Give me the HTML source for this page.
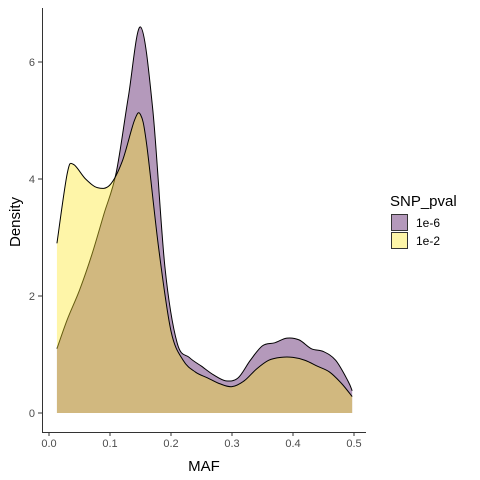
<!DOCTYPE html>
<html><head><meta charset="utf-8"><style>
body{margin:0;background:#fff;font-family:"Liberation Sans",sans-serif;}
svg{display:block}
</style></head><body>
<svg id="chart" width="480" height="480" xmlns="http://www.w3.org/2000/svg">
<rect width="480" height="480" fill="#fff"/>
<g id="marks"></g>
<g id="axes"></g>
<text x="204" y="471" font-size="15" text-anchor="middle" fill="#000">MAF</text>
<text transform="translate(20,222) rotate(-90)" font-size="15" text-anchor="middle" fill="#000">Density</text>
<g>
<text x="390" y="206" font-size="15" fill="#000">SNP_pval</text>
<rect x="391.5" y="214.5" width="16" height="16" fill="#b499bb" stroke="#333" stroke-width="1"/>
<text x="416" y="227" font-size="12" fill="#000">1e-6</text>
<rect x="391.5" y="232.5" width="16" height="16" fill="#fdf5a8" stroke="#333" stroke-width="1"/>
<text x="416" y="245" font-size="12" fill="#000">1e-2</text>
</g>
</svg>
<script>
const mafA=[0.013,0.03,0.05,0.07,0.09,0.11,0.13,0.15,0.17,0.19,0.21,0.23,0.25,0.27,0.29,0.31,0.33,0.35,0.37,0.39,0.41,0.43,0.45,0.47,0.49,0.497];
const densA=[1.1,1.6,2.1,2.7,3.4,4.1,5.4,6.6,5.2,2.5,1.2,0.95,0.8,0.65,0.55,0.6,0.9,1.15,1.2,1.28,1.25,1.1,1.05,0.9,0.55,0.38];
const mafB=[0.013,0.03,0.04,0.06,0.08,0.1,0.12,0.14,0.15,0.16,0.18,0.2,0.22,0.24,0.26,0.28,0.3,0.32,0.34,0.36,0.38,0.4,0.42,0.44,0.46,0.48,0.497];
const densB=[2.9,4.1,4.25,4.0,3.85,3.9,4.3,5.0,5.1,4.6,2.8,1.4,0.9,0.7,0.6,0.5,0.45,0.55,0.75,0.9,0.95,0.95,0.9,0.8,0.7,0.5,0.28];
const xTicks=[0,0.1,0.2,0.3,0.4,0.5];
const xTickLabels=["0.0","0.1","0.2","0.3","0.4","0.5"];
const yTicks=[0,2,4,6];
const X=v=>49+v*610;
const Y=v=>413-v*58.5;
const NS="http://www.w3.org/2000/svg";
function smooth(xs,ys){
  const p=xs.map((x,i)=>[X(x),Y(ys[i])]);
  let d="M"+p[0][0]+","+p[0][1];
  for(let i=0;i<p.length-1;i++){
    const p0=p[i-1]||p[i],p1=p[i],p2=p[i+1],p3=p[i+2]||p[i+1];
    const c1=[p1[0]+(p2[0]-p0[0])/6,p1[1]+(p2[1]-p0[1])/6];
    const c2=[p2[0]-(p3[0]-p1[0])/6,p2[1]-(p3[1]-p1[1])/6];
    d+="C"+c1+" "+c2+" "+p2;
  }
  return d;
}
const marks=document.getElementById('marks');
function series(xs,ys,fill,name){
  const line=smooth(xs,ys);
  const a=document.createElementNS(NS,'path');
  a.setAttribute('d',line+"L"+X(xs[xs.length-1])+","+Y(0)+"L"+X(xs[0])+","+Y(0)+"Z");
  a.setAttribute('fill',fill);a.setAttribute('fill-opacity','0.4');
  
  
  a.setAttribute('id',name+'-area');
  marks.appendChild(a);
  const l=document.createElementNS(NS,'path');
  l.setAttribute('d',line);l.setAttribute('fill','none');l.setAttribute('stroke','#000');l.setAttribute('stroke-width','1');
  
  
  marks.appendChild(l);
}
series(mafA,densA,'#440154','s1e6');
series(mafB,densB,'#FDE725','s1e2');
const axes=document.getElementById('axes');
function add(tag,attrs,txt){const e=document.createElementNS(NS,tag);for(const k in attrs)e.setAttribute(k,attrs[k]);if(txt!==undefined)e.textContent=txt;axes.appendChild(e);return e;}
const xl=add('line',{x1:42,y1:432.5,x2:366,y2:432.5,stroke:'#333','stroke-width':1});


const yl=add('line',{x1:42.5,y1:8,x2:42.5,y2:432,stroke:'#333','stroke-width':1});


xTicks.forEach((t,i)=>{
  const tk=add('line',{x1:X(t),y1:432,x2:X(t),y2:436,stroke:'#333'});
  
  
  const lb=add('text',{x:X(t),y:447,'font-size':11,'text-anchor':'middle',fill:'#4d4d4d'},xTickLabels[i]);
  
  
});
yTicks.forEach(t=>{
  const tk=add('line',{x1:38,y1:Y(t),x2:42,y2:Y(t),stroke:'#333'});
  
  
  const lb=add('text',{x:35,y:Y(t)+4,'font-size':11,'text-anchor':'end',fill:'#4d4d4d'},String(t));
  
  
});
</script>
</body></html>
